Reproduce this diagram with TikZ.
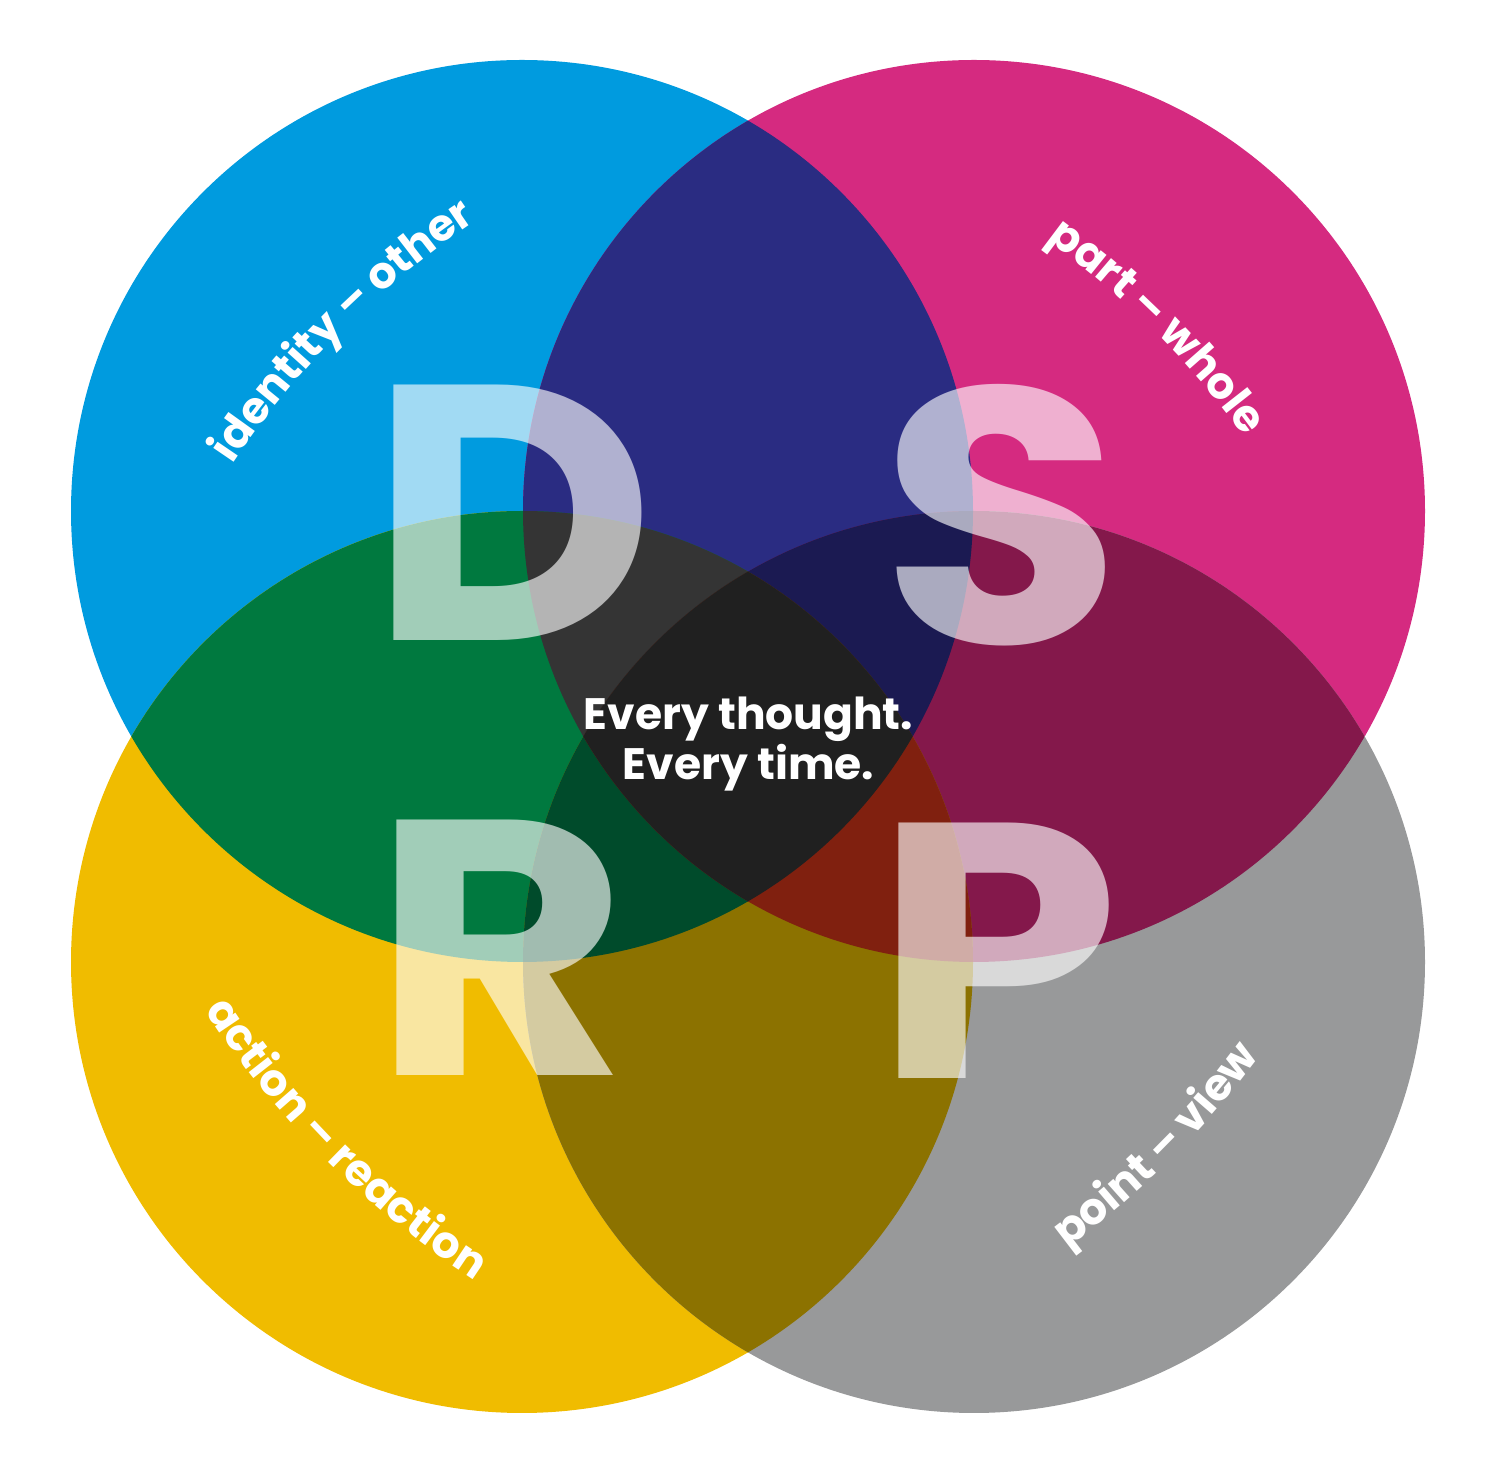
\documentclass[tikz,border=0pt]{standalone}
\usepackage{graphicx}
\usepackage{fontspec}
\setmainfont{Poppins}
\usetikzlibrary{decorations.text}

\definecolor{dsrpblue}{HTML}{009BDF}
\definecolor{dsrpmagenta}{HTML}{D52A80}
\definecolor{dsrpyellow}{HTML}{F0BC00}
\definecolor{dsrpgray}{HTML}{98999A}
\definecolor{bluemag}{HTML}{2A2C82}
\definecolor{blueyel}{HTML}{00793F}
\definecolor{maggray}{HTML}{84184B}
\definecolor{yelgray}{HTML}{8C7200}
\definecolor{bmy}{HTML}{343434}
\definecolor{bmg}{HTML}{1B1A52}
\definecolor{byg}{HTML}{004B2B}
\definecolor{myg}{HTML}{80200F}
\definecolor{allfour}{HTML}{202020}

\newcommand{\rad}{451}
\newcommand{\rimfont}{\fontsize{22}{22}\selectfont\bfseries}
\newcommand{\widen}[1]{\scalebox{1.08}[1]{#1}}

\tikzset{
  bigletter/.style={text=white, text opacity=0.63, inner sep=0pt, font=\fontsize{182}{182}\selectfont\bfseries},
  motto/.style={text=white, inner sep=0pt, font=\fontsize{22}{25}\selectfont\bfseries},
  rimlabel/.style={decorate, decoration={text along path, text align=center, text color=white, text={|\rimfont|#1}}}
}

\begin{document}
\begin{tikzpicture}[x=0.5pt, y=0.5pt]
\useasboundingbox (0,0) rectangle (1500,1478);
\fill[white] (0,0) rectangle (1500,1478);
\coordinate (blue) at (522,967);
\coordinate (magenta) at (974,967);
\coordinate (yellow) at (522,516);
\coordinate (gray) at (974,516);

% the four circles
\fill[dsrpblue] (blue) circle[radius=\rad];
\fill[dsrpmagenta] (magenta) circle[radius=\rad];
\fill[dsrpyellow] (yellow) circle[radius=\rad];
\fill[dsrpgray] (gray) circle[radius=\rad];

% overlaps of two
\begin{scope}
\clip (blue) circle[radius=\rad];
\fill[bluemag] (magenta) circle[radius=\rad];
\fill[blueyel] (yellow) circle[radius=\rad];
\end{scope}
\begin{scope}
\clip (gray) circle[radius=\rad];
\fill[maggray] (magenta) circle[radius=\rad];
\fill[yelgray] (yellow) circle[radius=\rad];
\end{scope}

% overlaps of three
\begin{scope}
\clip (blue) circle[radius=\rad];
\clip (magenta) circle[radius=\rad];
\fill[bmy] (yellow) circle[radius=\rad];
\fill[bmg] (gray) circle[radius=\rad];
\end{scope}
\begin{scope}
\clip (yellow) circle[radius=\rad];
\clip (gray) circle[radius=\rad];
\fill[byg] (blue) circle[radius=\rad];
\fill[myg] (magenta) circle[radius=\rad];
\end{scope}

% all four
\begin{scope}
\clip (blue) circle[radius=\rad];
\clip (magenta) circle[radius=\rad];
\clip (yellow) circle[radius=\rad];
\fill[allfour] (gray) circle[radius=\rad];
\end{scope}

% letters
\node[bigletter] (D) at (512,965) {\widen{D}};
\node[bigletter] (S) at (1001,963) {\widen{S}};
\node[bigletter] (R) at (501,530) {\widen{R}};
\node[bigletter] (P) at (997,527) {\widen{P}};

\node[motto, anchor=base] (motto1) at (748.5,748) {Every thought.};
\node[motto, anchor=base] (motto2) at (748.5,698) {Every time.};

% rim labels
\path[rimlabel={identity – other}] ([shift={(gray)}]155:893) arc[start angle=155, end angle=115, radius=893];
\path[rimlabel={part – whole}] ([shift={(yellow)}]65:893) arc[start angle=65, end angle=25, radius=893];
\path[rimlabel={action – reaction}] ([shift={(magenta)}]205:917) arc[start angle=205, end angle=245, radius=917];
\path[rimlabel={point – view}] ([shift={(blue)}]295:917) arc[start angle=295, end angle=335, radius=917];
\end{tikzpicture}
\end{document}
